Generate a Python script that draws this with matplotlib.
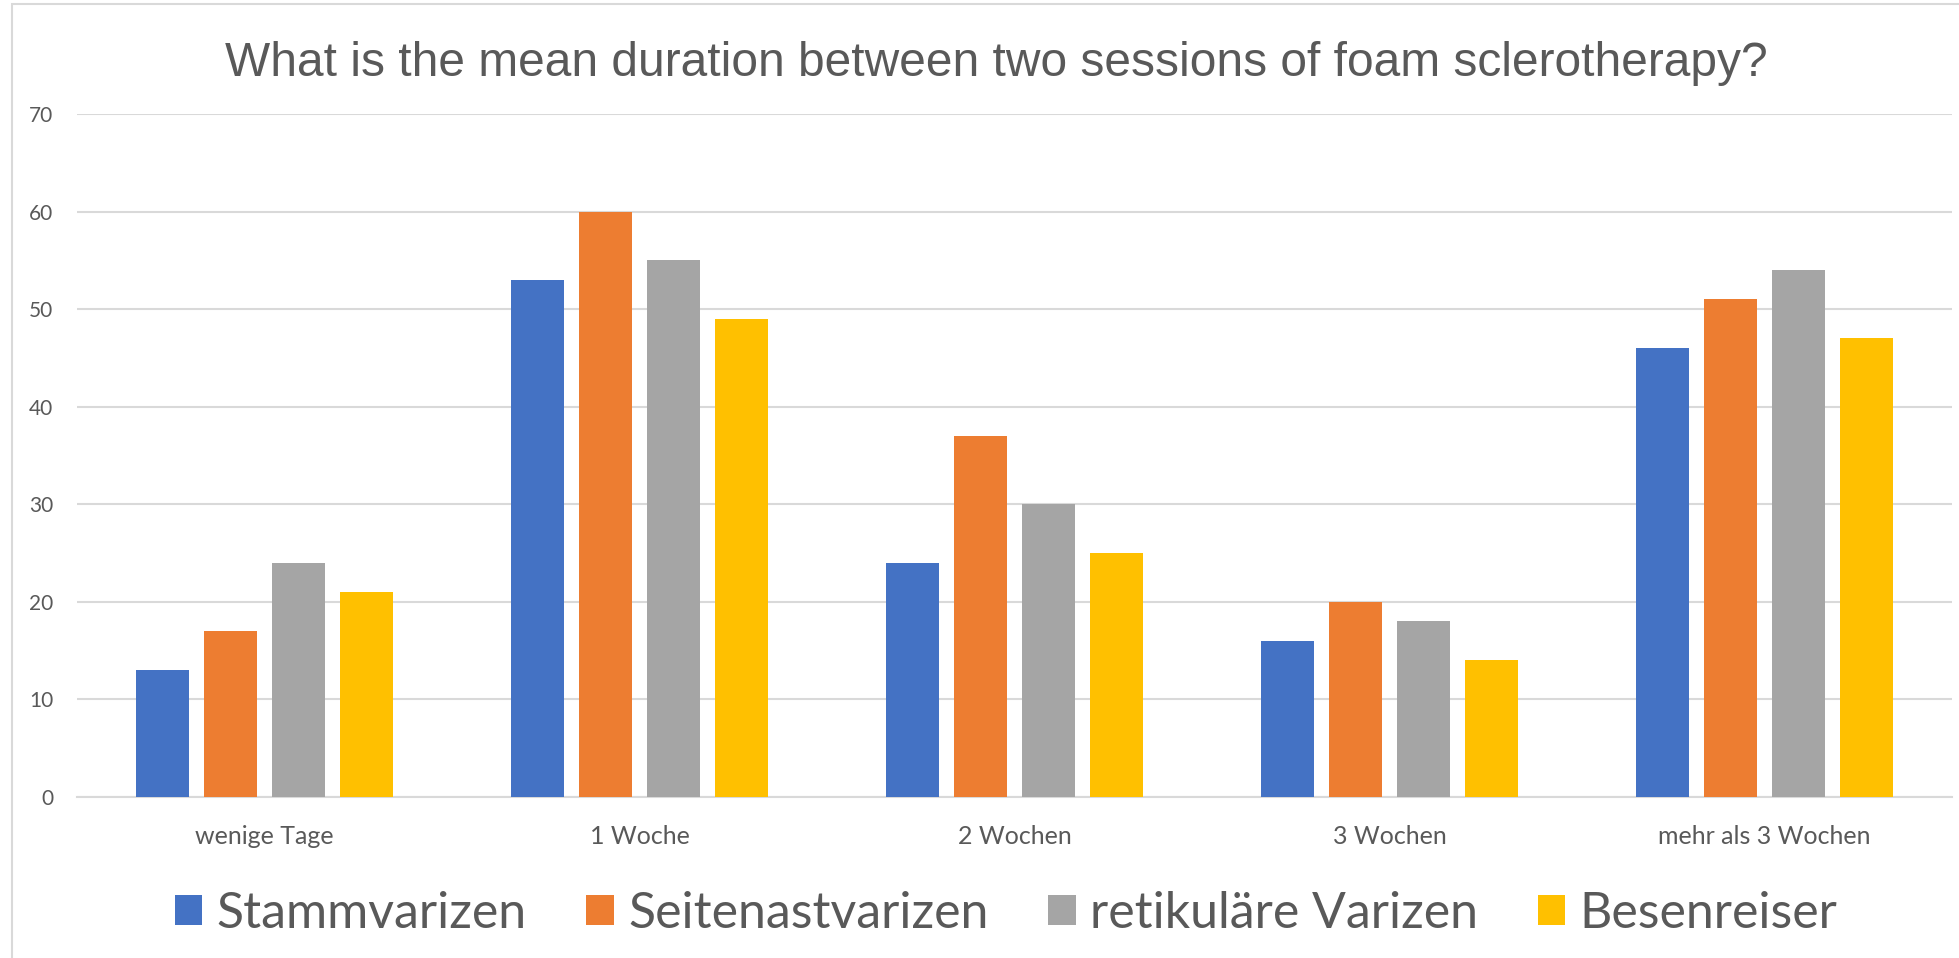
import matplotlib
matplotlib.use("Agg")
import matplotlib.pyplot as plt
from matplotlib.patches import Patch, Rectangle
import numpy as np

# data
categories = ["wenige Tage", "1 Woche", "2 Wochen", "3 Wochen", "mehr als 3 Wochen"]
series = ["Stammvarizen", "Seitenastvarizen", "retikuläre Varizen", "Besenreiser"]
stamm = [13, 53, 24, 16, 46]
seitenast = [17, 60, 37, 20, 51]
retikulaer = [24, 55, 30, 18, 54]
besen = [21, 49, 25, 14, 47]
values = [stamm, seitenast, retikulaer, besen]
colors = ["#4472C4", "#ED7D31", "#A5A5A5", "#FFC000"]
yticks = [0, 10, 20, 30, 40, 50, 60, 70]

txt = "#595959"
grid = "#D9D9D9"

W, H = 1959, 958
fig = plt.figure(figsize=(W / 100, H / 100), dpi=100)

# outer chart border (cut off on the right and bottom)
fig.patches.append(Rectangle((12 / W, -0.1), 1.2, 1 - 4 / H + 0.1, transform=fig.transFigure,
                             fill=False, edgecolor=grid, linewidth=1.5))

ax = fig.add_axes([77 / W, 1 - 797 / H, (1952 - 77) / W, (797 - 114) / H])

x = np.arange(len(categories))
step = 0.181
width = 0.141
for j, (vals, col) in enumerate(zip(values, colors)):
    ax.bar(x + (j - 1.5) * step, vals, width, color=col, label=series[j], zorder=3)

ax.set_xlim(-0.5, len(categories) - 0.5)
ax.set_ylim(0, 70)
ax.set_yticks(yticks)
ax.set_yticklabels([str(v) for v in yticks], family="Lato", fontsize=15, color=txt)
ax.set_xticks(x)
ax.set_xticklabels(categories, family="Lato", fontsize=18, color=txt)
ax.tick_params(axis="y", length=0, pad=17)
ax.tick_params(axis="x", length=0, pad=20)
ax.grid(axis="y", color=grid, linewidth=1.5, zorder=0)
for s in ["top", "right", "left"]:
    ax.spines[s].set_visible(False)
ax.spines["bottom"].set_color(grid)
ax.spines["bottom"].set_linewidth(1.5)

fig.text(996 / W, 1 - 63 / H,
         "What is the mean duration between two sessions of foam sclerotherapy?",
         ha="center", va="center", family="Liberation Sans", fontsize=34.5, color=txt)

handles = [Patch(facecolor=c, edgecolor="none") for c in colors]
leg = fig.legend(handles, series, loc="center", bbox_to_anchor=(1006 / W, 1 - 914 / H), ncol=4,
                 frameon=False, prop={"family": "Lato", "size": 36},
                 handlelength=0.55, handleheight=0.55, handletextpad=0.28,
                 columnspacing=1.2)
for t in leg.get_texts():
    t.set_color(txt)

fig.savefig("out.png", dpi=100)
